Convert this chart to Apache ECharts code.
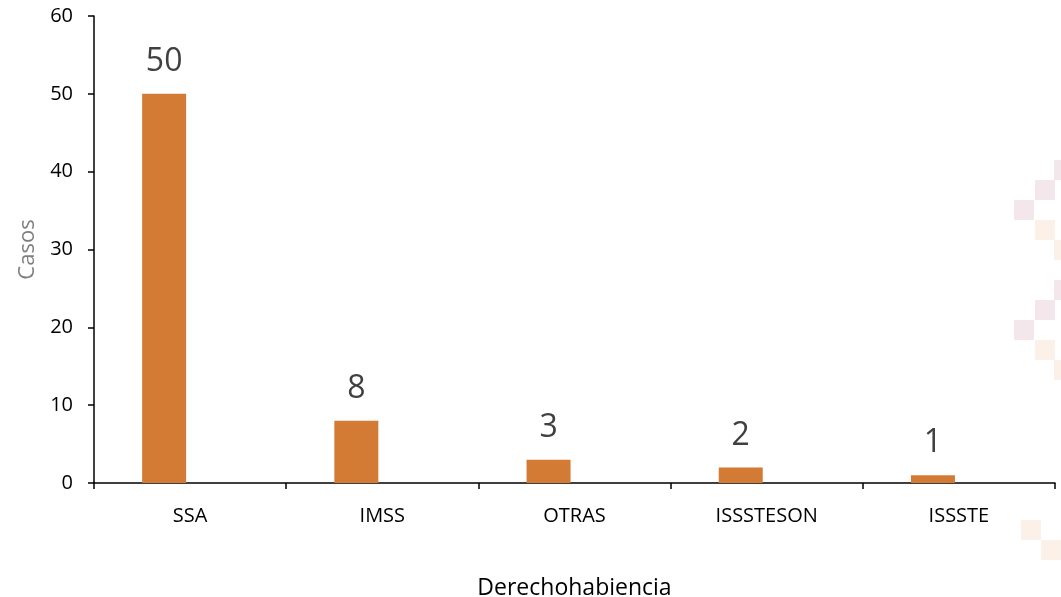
<!DOCTYPE html>
<html>
<head>
<meta charset="utf-8">
<script src="https://cdn.jsdelivr.net/npm/echarts@6/dist/echarts.min.js"></script>
<style>html,body{margin:0;padding:0;background:#fff;}#c{width:1061px;height:597px;}</style>
</head>
<body>
<div id="c"></div>
<script>
const categories = ['SSA', 'IMSS', 'OTRAS', 'ISSSTESON', 'ISSSTE'];
const casos = [50, 8, 3, 2, 1];
const yTicks = { min: 0, max: 60, interval: 10 };

const chart = echarts.init(document.getElementById('c'));
const font = 'Open Sans, Liberation Sans, sans-serif';
const pink = '#F3E7EB', beige = '#FBF1E8';
const sq = (x, y, c) => ({ type: 'rect', shape: { x: x, y: y, width: 20, height: 20 }, style: { fill: c }, z: -10, silent: true });
chart.setOption({
  animation: false,
  backgroundColor: '#fff',
  graphic: [
    sq(1054, 160, pink), sq(1035, 180, pink), sq(1014, 200, pink), sq(1035, 220, beige), sq(1054, 240, beige),
    sq(1054, 280, pink), sq(1035, 300, pink), sq(1014, 320, pink), sq(1035, 340, beige), sq(1054, 360, beige),
    sq(1021, 520, beige), sq(1041, 540, beige)
  ],
  grid: { left: 94, right: 6, top: 16, bottom: 114, outerBoundsMode: 'none', containLabel: false },
  xAxis: {
    type: 'category',
    data: categories,
    name: 'Derechohabiencia',
    nameLocation: 'middle',
    nameGap: 94,
    nameTextStyle: { fontFamily: font, fontSize: 23, color: '#000' },
    axisLine: { lineStyle: { color: '#000', width: 1.5 } },
    axisTick: { show: true, alignWithLabel: false, length: 6, lineStyle: { color: '#000', width: 1.5 } },
    axisLabel: { fontFamily: font, fontSize: 20, color: '#000', margin: 23 }
  },
  yAxis: {
    type: 'value',
    min: yTicks.min, max: yTicks.max, interval: yTicks.interval,
    name: 'Casos',
    nameLocation: 'middle',
    nameGap: 54,
    nameTextStyle: { fontFamily: font, fontSize: 22, color: '#7F7F7F' },
    axisLine: { show: true, lineStyle: { color: '#000', width: 1.5 } },
    axisTick: { show: true, length: 6, lineStyle: { color: '#000', width: 1.5 } },
    splitLine: { show: false },
    axisLabel: { fontFamily: font, fontSize: 20, color: '#000', margin: 21 }
  },
  series: [
    {
      type: 'bar',
      data: casos,
      barWidth: 44,
      barGap: '18%',
      itemStyle: { color: '#D37A35' },
      label: { show: true, position: 'top', distance: 16, fontFamily: font, fontSize: 32, color: '#404040' }
    },
    {
      type: 'bar',
      data: categories.map(() => '-'),
      barWidth: 44,
      itemStyle: { color: 'transparent' }
    }
  ]
});
</script>
</body>
</html>
